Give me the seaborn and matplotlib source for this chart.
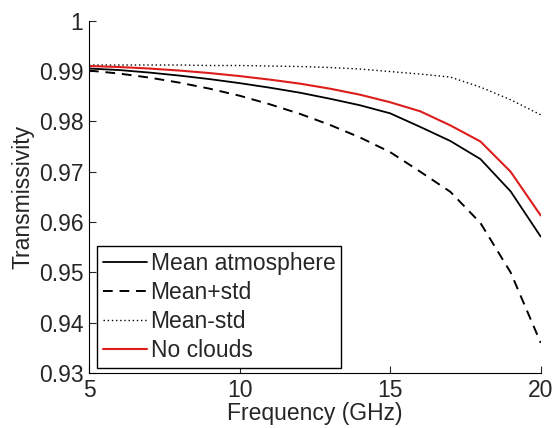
import numpy as np
import pandas as pd
import seaborn as sns
import matplotlib.pyplot as plt

# Frequency grid (GHz)
freq = [5, 6, 7, 8, 9, 10, 11, 12, 13, 14, 15, 16, 17, 18, 19, 20]

# Transmissivity
mean_atm = [0.9905, 0.9902, 0.9897, 0.9891, 0.9884, 0.9876, 0.9867, 0.9857,
            0.9845, 0.9832, 0.9816, 0.9789, 0.9761, 0.9725, 0.9661, 0.9571]
mean_plus_std = [0.9901, 0.9895, 0.9887, 0.9877, 0.9865, 0.9851, 0.9834, 0.9815,
                 0.9793, 0.9768, 0.9739, 0.9700, 0.9660, 0.9598, 0.9500, 0.9360]
mean_minus_std = [0.9912, 0.9912, 0.9912, 0.9912, 0.9911, 0.9911, 0.9910, 0.9909,
                  0.9907, 0.9904, 0.9899, 0.9894, 0.9888, 0.9868, 0.9843, 0.9813]
no_clouds = [0.9910, 0.9908, 0.9905, 0.9901, 0.9896, 0.9890, 0.9883, 0.9875,
             0.9865, 0.9853, 0.9838, 0.9820, 0.9792, 0.9760, 0.9700, 0.9613]

labels = ["Mean atmosphere", "Mean+std", "Mean-std", "No clouds"]
y_ticks = [0.93, 0.94, 0.95, 0.96, 0.97, 0.98, 0.99, 1.0]
y_tick_labels = ["0.93", "0.94", "0.95", "0.96", "0.97", "0.98", "0.99", "1"]
x_ticks = [5, 10, 15, 20]

sns.set_style("ticks")
plt.rcParams['font.family'] = ['Liberation Sans', 'DejaVu Sans']
plt.rcParams['xtick.direction'] = 'in'
plt.rcParams['ytick.direction'] = 'in'

fs = 16.5
fig = plt.figure(figsize=(5.54, 4.28), dpi=100)
ax = fig.add_axes([0.1606, 0.1285, 0.8154, 0.8231])

series = [mean_atm, mean_plus_std, mean_minus_std, no_clouds]
styles = [
    dict(color="black", linewidth=1.3, linestyle="-"),
    dict(color="black", linewidth=1.4, dashes=(5, 3.5)),
    dict(color="black", linewidth=1.0, dashes=(1, 2)),
    dict(color="#dd1c1c", linewidth=1.5, linestyle="-"),
]
for vals, lab, st in zip(series, labels, styles):
    df = pd.DataFrame({"Frequency": freq, "Transmissivity": vals})
    sns.lineplot(data=df, x="Frequency", y="Transmissivity", ax=ax, label=lab, **st)

ax.set_xlim(5, 20)
ax.set_ylim(0.93, 1.0)
ax.set_xticks(x_ticks)
ax.set_xticklabels([str(t) for t in x_ticks])
ax.set_yticks(y_ticks)
ax.set_yticklabels(y_tick_labels)
ax.tick_params(labelsize=fs, length=5, width=0.8, pad=4)
ax.set_xlabel("Frequency (GHz)", fontsize=fs, labelpad=0)
ax.set_ylabel("Transmissivity", fontsize=fs, labelpad=3)
sns.despine(ax=ax)
for s in ["left", "bottom"]:
    ax.spines[s].set_linewidth(0.8)
    ax.spines[s].set_color("black")

leg = ax.legend(loc="lower left", bbox_to_anchor=(0.0177, 0.014), borderaxespad=0,
                fontsize=fs, frameon=True, fancybox=False, framealpha=1,
                edgecolor="black", handlelength=1.92, handletextpad=0.17,
                labelspacing=0.27, borderpad=0.25)
leg.get_frame().set_linewidth(1.0)

fig.savefig("out.png", dpi=100)
